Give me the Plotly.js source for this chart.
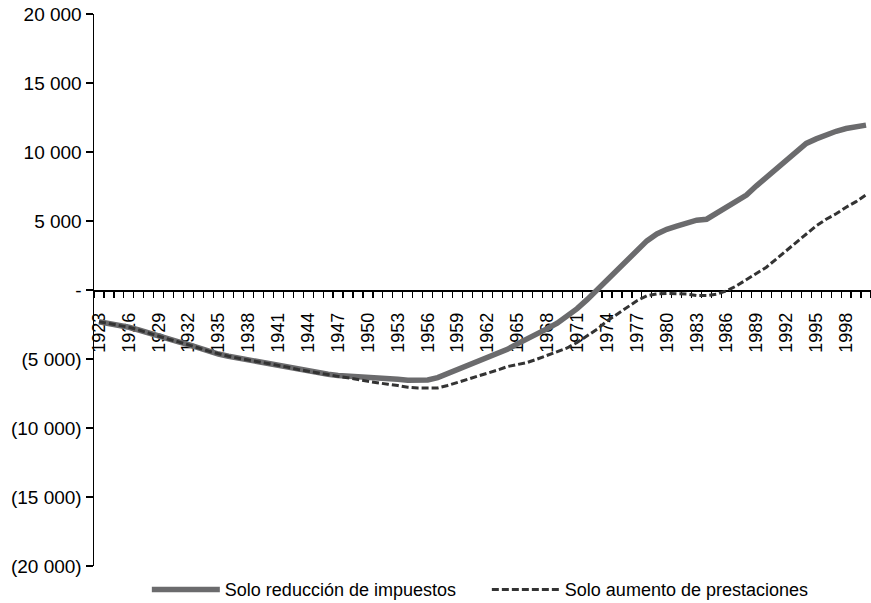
<!DOCTYPE html>
<html>
<head>
<meta charset="utf-8">
<script src="https://cdn.plot.ly/plotly-3.0.1.min.js"></script>
<style>
html,body{margin:0;padding:0;background:#fff;}
#chart{width:871px;height:603px;}
</style>
</head>
<body>
<div id="chart"></div>
<script>
const years = [];
for (let y = 1923; y <= 2000; y++) years.push(y);

const reduccionImpuestos = [
  -2300, -2420, -2560, -2700, -2900, -3130, -3380, -3570, -3760, -3960,
  -4200, -4430, -4640, -4800, -4940, -5070, -5200, -5300, -5430, -5600,
  -5760, -5900, -6010, -6100, -6200, -6230, -6290, -6340, -6390, -6430,
  -6470, -6540, -6570, -6520, -6350, -6050, -5780, -5500, -5200, -4920,
  -4600, -4300, -3900, -3550, -3230, -2800, -2400, -1900, -1350, -700,
  0, 780, 1480, 2230, 2900, 3560, 4060, 4400, 4630, 4850,
  5060, 5130, 5580, 6040, 6400, 6880, 7550, 8150, 8880, 9480,
  10020, 10620, 10950, 11250, 11500, 11700, 11850, 11950
];

const aumentoPrestaciones = [
  -2300, -2420, -2560, -2700, -2900, -3130, -3380, -3570, -3760, -3960,
  -4200, -4430, -4640, -4800, -4940, -5070, -5200, -5300, -5430, -5600,
  -5760, -5900, -6030, -6130, -6260, -6350, -6480, -6620, -6740, -6830,
  -6920, -7050, -7100, -7100, -7100, -6920, -6700, -6500, -6260, -6050,
  -5800, -5550, -5380, -5250, -5000, -4750, -4480, -4200, -3800, -3350,
  -2850, -2250, -1750, -1250, -780, -420, -290, -250, -250, -290,
  -400, -400, -300, -60, 300, 750, 1230, 1650, 2250, 2850,
  3450, 4050, 4650, 5130, 5520, 6000, 6400, 6900
];

const seriesNames = ['Solo reducción de impuestos', 'Solo aumento de prestaciones'];

const xLabelYears = years.filter(y => (y - 1923) % 3 === 0);
const categoryEdges = years.map(y => y - 0.5).concat([years[years.length - 1] + 0.5]);

const yTickVals = [-20000, -15000, -10000, -5000, 0, 5000, 10000, 15000, 20000];
const yTickText = ['(20 000)', '(15 000)', '(10 000)', '(5 000)', '-', '5 000', '10 000', '15 000', '20 000'];

const font = 'Liberation Sans, Arial, sans-serif';

const traces = [
  {
    x: years, y: reduccionImpuestos, name: seriesNames[0],
    type: 'scatter', mode: 'lines',
    line: {color: '#6b6b6d', width: 5.5}
  },
  {
    x: years, y: aumentoPrestaciones, name: seriesNames[1],
    type: 'scatter', mode: 'lines',
    line: {color: '#333333', width: 3, dash: '7px,3px'}
  }
];

const layout = {
  width: 871, height: 603,
  margin: {l: 94, r: 0, t: 14, b: 37, pad: 0, autoexpand: false},
  paper_bgcolor: '#fff', plot_bgcolor: '#fff',
  font: {family: font, color: '#000', size: 18},
  showlegend: true,
  legend: {
    orientation: 'h', x: 0.068, xanchor: 'left', y: -0.043, yanchor: 'middle',
    font: {family: font, size: 18, color: '#000'},
    itemwidth: 68, entrywidth: 257, entrywidthmode: 'pixels',
    tracegroupgap: 0, bgcolor: 'rgba(0,0,0,0)'
  },
  xaxis: {
    type: 'linear',
    range: [categoryEdges[0], categoryEdges[categoryEdges.length - 1]],
    anchor: 'free', position: 0.5,
    showline: true, linecolor: '#000', linewidth: 1.5,
    showgrid: false, zeroline: false,
    tickmode: 'array', tickvals: xLabelYears, ticktext: xLabelYears.map(String),
    ticks: '', tickangle: -90, ticklabelstandoff: 14,
    tickfont: {family: font, size: 18, color: '#000'},
    minor: {tickmode: 'array', tickvals: categoryEdges, ticks: 'outside', ticklen: 6, tickwidth: 1.2, tickcolor: '#000', showgrid: false},
    layer: 'below traces'
  },
  yaxis: {
    range: [-20000, 20000],
    showline: true, linecolor: '#000', linewidth: 1.5,
    showgrid: false, zeroline: false,
    tickmode: 'array', tickvals: yTickVals, ticktext: yTickText,
    ticks: 'outside', ticklen: 7, tickwidth: 1.2, tickcolor: '#000',
    tickfont: {family: font, size: 19, color: '#000'},
    layer: 'below traces'
  }
};

Plotly.newPlot('chart', traces, layout, {displayModeBar: false, staticPlot: true});
</script>
</body>
</html>
